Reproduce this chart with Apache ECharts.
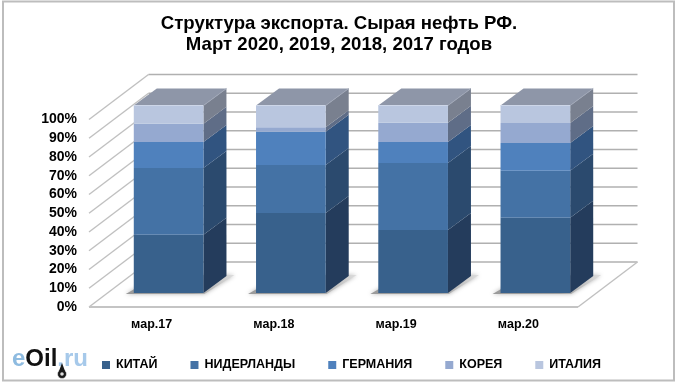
<!DOCTYPE html>
<html><head><meta charset="utf-8">
<style>html,body{margin:0;padding:0;background:#fff}#c{width:680px;height:385px}</style>
<script src="https://cdn.jsdelivr.net/npm/echarts@6/dist/echarts.min.js"></script>
</head><body><div id="c"></div>
<script>
const categories = ['мар.17','мар.18','мар.19','мар.20'];
const yTicks = [0,10,20,30,40,50,60,70,80,90,100];
const china = [31.1,42.7,33.6,40.2];
const netherlands = [35.6,25.6,35.7,25.0];
const germany = [13.8,17.7,11.2,14.8];
const korea = [9.8,2.4,10.3,10.7];
const italy = [9.7,11.6,9.2,9.3];
const names = ['КИТАЙ','НИДЕРЛАНДЫ','ГЕРМАНИЯ','КОРЕЯ','ИТАЛИЯ'];
const values = [china,netherlands,germany,korea,italy];
const frontColors = ['#38618c','#4472a5','#4f81bd','#95a9d0','#b9c6df'];
const sideColors = ['#243c5c','#2b4a6e','#315480','#5f6d87','#79808f'];
const topColor = '#8e96a8';
const wall = {dx:59.5, dy:-45};
const front = {dx:18.5, dy:-14};
const depth = {dx:23, dy:-17};
const barRatio = 0.57;

const poly = (pts, fill, extra) => ({type:'polygon', shape:{points:pts}, style:Object.assign({fill:fill}, extra||{})});
const line = (a, b, c, w) => ({type:'line', shape:{x1:a[0],y1:a[1],x2:b[0],y2:b[1]}, style:{stroke:c,lineWidth:w}});

function wallItem(params, api){
  const cs = params.coordSys;
  const y = api.coord([0, api.value(0)])[1];
  const L = cs.x, R = cs.x + cs.width;
  const kids = [
    line([L,y],[L+wall.dx,y+wall.dy],'#c0c0c0',1.4),
    line([L+wall.dx,y+wall.dy],[R+wall.dx,y+wall.dy],'#b0b0b0',1.6)
  ];
  if (api.value(0) === 0) {
    kids.push(line([L,y],[R,y],'#c4c4c4',2));
    kids.push(line([R,y],[R+wall.dx,y+wall.dy],'#c0c0c0',1.4));
  }
  return {type:'group', children:kids};
}
function shadowItem(params, api){
  const x = api.coord([api.value(0),0]);
  const w = api.size([1,0])[0]*barRatio;
  const l = x[0]-w/2+front.dx, b = x[1]+front.dy;
  return poly([[l-8,b+1],[l+w+1,b+1],[l+w+31,b-18],[l+25,b-18]],
    {type:'linear',x:0,y:1,x2:1,y2:0,colorStops:[{offset:0,color:'#9a9a9a'},{offset:0.6,color:'#a0a0a0'},{offset:1,color:'#dedede'}]},
    {shadowBlur:4,shadowColor:'#b4b4b4'});
}
function barItem(si){
  return function(params, api){
    const i = api.value(0);
    const p0 = api.coord([i, api.value(1)]);
    const p1 = api.coord([i, api.value(2)]);
    const w = api.size([1,0])[0]*barRatio;
    const l = p0[0]-w/2+front.dx, r = l+w;
    const yb = p0[1]+front.dy, yt = p1[1]+front.dy;
    const dx = depth.dx, dy = depth.dy;
    const kids = [
      poly([[r,yb],[r+dx,yb+dy],[r+dx,yt+dy],[r,yt]], sideColors[si]),
      poly([[l,yb],[r,yb],[r,yt],[l,yt]], frontColors[si])
    ];
    if (si === values.length-1) {
      kids.push(poly([[l,yt],[r,yt],[r+dx,yt+dy],[l+dx,yt+dy]], topColor));
      kids.push(line([l,yt],[r,yt],'#cdd6e8',1));
      kids.push(line([r,yt],[r+dx,yt+dy],'#a0a7b7',1));
    }
    return {type:'group', children:kids};
  };
}
const barSeries = names.map((n,si)=>{
  const data = categories.map((c,i)=>{
    let s = 0;
    for (let k=0;k<si;k++) s += values[k][i];
    return [i, s, s+values[si][i]];
  });
  return {name:n, type:'custom', renderItem:barItem(si), data:data, encode:{x:0,y:[1,2]},
    itemStyle:{color:frontColors[si], borderWidth:0}, z:5, silent:true, animation:false};
});

const chart = echarts.init(document.getElementById('c'), null, {renderer:'canvas'});
chart.setOption({
  animation:false,
  backgroundColor:'#fff',
  title:{text:'Структура экспорта. Сырая нефть РФ.\nМарт 2020, 2019, 2018, 2017 годов', left:334, top:8, textAlign:'center',
    textStyle:{fontFamily:'Liberation Sans',fontWeight:'bold',fontSize:18.6,lineHeight:21,color:'#000'}},
  legend:{left:102, top:358.5, padding:0, itemWidth:8, itemHeight:8, itemGap:33, icon:'rect', data:names, selectedMode:false,
    textStyle:{fontFamily:'Liberation Sans',fontWeight:'bold',fontSize:12.5,color:'#000',padding:[0,0,0,1]}},
  grid:{left:89, top:119.5, width:489, height:187.5},
  xAxis:{type:'category', data:categories, axisLine:{show:false}, axisTick:{show:false}, splitLine:{show:false},
    axisLabel:{margin:11, color:'#000', fontFamily:'Liberation Sans', fontWeight:'bold', fontSize:12.5, padding:[0,0,0,3]}},
  yAxis:{type:'value', min:0, max:100, interval:10, axisLine:{show:false}, axisTick:{show:false}, splitLine:{show:false},
    axisLabel:{margin:12, formatter:'{value}%', color:'#000', fontFamily:'Liberation Sans', fontWeight:'bold', fontSize:14}},
  graphic:[
    {type:'rect', shape:{x:3,y:1.5,width:671,height:379}, style:{fill:'none',stroke:'#bdbdbd',lineWidth:2}, z:0, silent:true},
    {type:'text', left:12, top:347, z:20, silent:true, style:{
      rich:{a:{fill:'#8ebbe0',fontSize:24,fontWeight:'bold',fontFamily:'Liberation Sans'},
            b:{fill:'#111',fontSize:24,fontWeight:'bold',fontFamily:'Liberation Sans'},
            c:{fill:'#a6c9ea',fontSize:24,fontWeight:'bold',fontFamily:'Liberation Sans'}},
      text:'{a|e}{b|Oil}{c|.ru}'}},
    {type:'circle', shape:{cx:62,cy:374,r:4.5}, style:{fill:'#1a1a1a',stroke:'#fff',lineWidth:0.5}, z:21, silent:true},
    {type:'circle', shape:{cx:62,cy:374,r:1.8}, style:{fill:'#ddd'}, z:22, silent:true},
    {type:'polygon', shape:{points:[[62,363],[59,371],[65,371]]}, style:{fill:'#1a1a1a'}, z:21, silent:true}
  ],
  series:[
    {type:'custom', renderItem:wallItem, data:yTicks.map(v=>[v]), encode:{y:0}, z:1, silent:true, animation:false},
    {type:'custom', renderItem:shadowItem, data:categories.map((c,i)=>[i]), encode:{x:0}, z:2, silent:true, animation:false}
  ].concat(barSeries)
});
</script></body></html>
